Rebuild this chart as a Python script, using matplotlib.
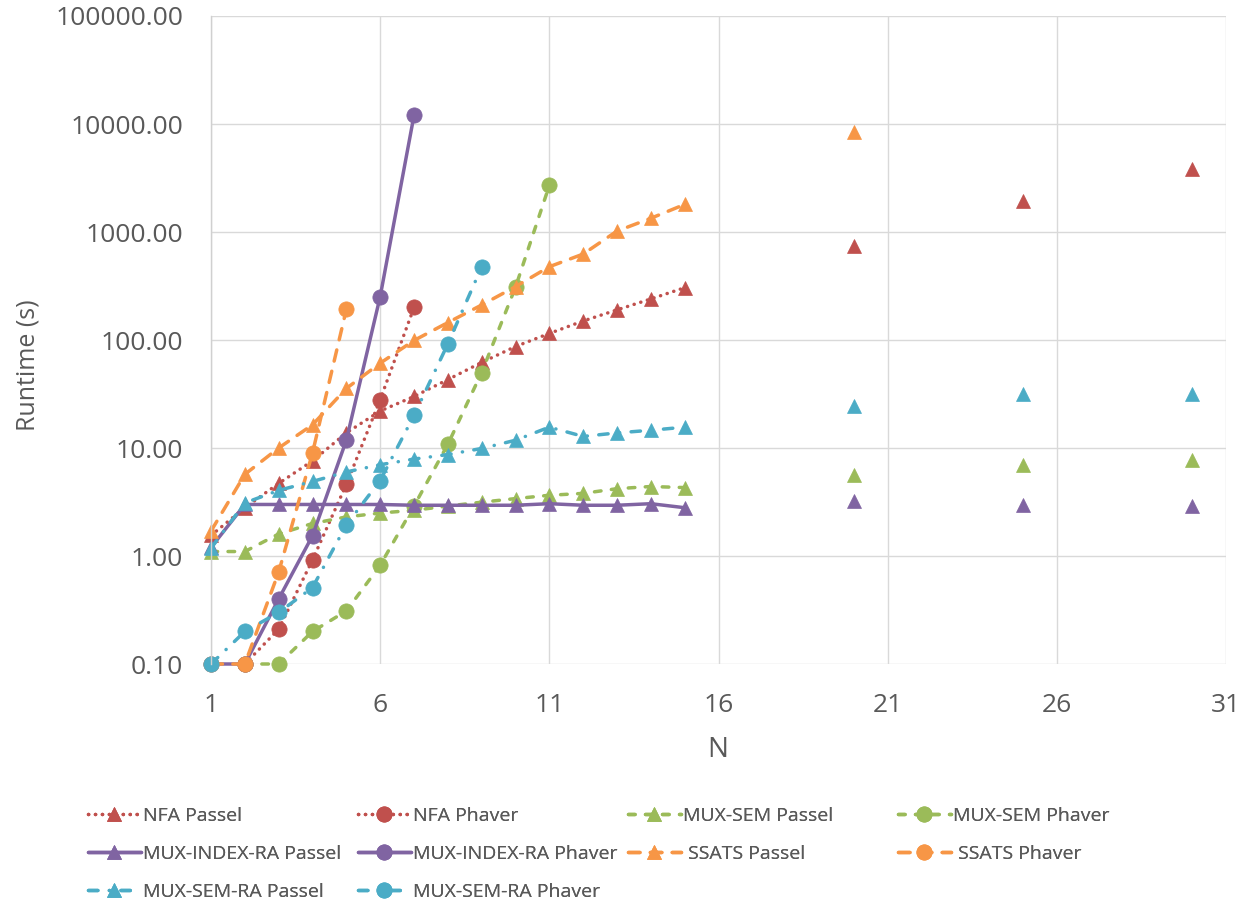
import numpy as np
import pandas as pd
import matplotlib
matplotlib.use("Agg")
import matplotlib.pyplot as plt
from matplotlib.ticker import FuncFormatter, NullLocator

plt.rcParams['font.family'] = ['Open Sans', 'DejaVu Sans']

# Passel runs: 1..15 plus three long runs (no line between them)
n_passel = list(range(1, 16)) + [20, 25, 30]
nfa_passel = [1.55, 2.8, 4.7, 7.6, 13.8, 22, 30, 43, 62, 87, 115, 150, 190, 240, 305,
              740, 1920, 3800]
mux_sem_passel = [1.1, 1.1, 1.6, 2.0, 2.3, 2.5, 2.65, 2.9, 3.15, 3.4, 3.65, 3.8, 4.2, 4.4, 4.3,
                  5.66, 6.96, 7.8]
mux_index_ra_passel = [1.2, 3.0, 3.0, 3.0, 3.0, 3.0, 2.95, 2.95, 2.95, 2.95, 3.05, 2.95, 2.95, 3.05, 2.8,
                       3.25, 2.96, 2.88]
mux_sem_ra_passel = [1.18, 3.1, 4.05, 4.9, 6.0, 7.0, 7.9, 8.7, 9.9, 11.8, 15.6, 12.8, 13.8, 14.6, 15.6,
                     24.7, 31.8, 31.8]
n_ssats_passel = list(range(1, 16)) + [20]
ssats_passel = [1.7, 5.7, 10, 16.4, 35.6, 61, 99, 145, 211, 312, 477, 625, 1020, 1340, 1800,
                8500]

# Phaver runs
n_nfa_phaver = [2, 3, 4, 5, 6, 7]
nfa_phaver = [0.1, 0.21, 0.92, 4.6, 28, 200]
n_mux_sem_phaver = [2, 3, 4, 5, 6, 7, 8, 9, 10, 11]
mux_sem_phaver = [0.1, 0.1, 0.2, 0.31, 0.82, 2.9, 10.8, 50, 308, 2700]
n_mux_index_ra_phaver = [1, 2, 3, 4, 5, 6, 7]
mux_index_ra_phaver = [0.1, 0.1, 0.4, 1.54, 11.8, 252, 12000]
n_ssats_phaver = [1, 2, 3, 4, 5]
ssats_phaver = [0.1, 0.1, 0.71, 9.0, 192]
n_mux_sem_ra_phaver = [1, 2, 3, 4, 5, 6, 7, 8, 9]
mux_sem_ra_phaver = [0.1, 0.2, 0.3, 0.51, 1.94, 5.0, 20, 92, 475]

RED, GREEN, PURPLE, ORANGE, BLUE = '#C0504D', '#9BBB59', '#8064A2', '#F79646', '#4BACC6'
TEXT = '#595959'

# dash patterns (round caps add one line width to every dash)
DOT = (0, (0.05, 1.95))
DASH = (0, (1.9, 3.0))
LONGDASH = (0, (3.3, 3.0))
DASHDOT = (0, (2.7, 3.3, 0.05, 3.3))

# (label, x, y, colour, marker, linestyle) in Excel series order
series = [
    ('NFA Passel', n_passel, nfa_passel, RED, '^', DOT),
    ('NFA Phaver', n_nfa_phaver, nfa_phaver, RED, 'o', DOT),
    ('MUX-SEM Passel', n_passel, mux_sem_passel, GREEN, '^', DASH),
    ('MUX-SEM Phaver', n_mux_sem_phaver, mux_sem_phaver, GREEN, 'o', DASH),
    ('MUX-INDEX-RA Passel', n_passel, mux_index_ra_passel, PURPLE, '^', '-'),
    ('MUX-INDEX-RA Phaver', n_mux_index_ra_phaver, mux_index_ra_phaver, PURPLE, 'o', '-'),
    (' SSATS Passel', n_ssats_passel, ssats_passel, ORANGE, '^', LONGDASH),
    (' SSATS Phaver', n_ssats_phaver, ssats_phaver, ORANGE, 'o', LONGDASH),
    ('MUX-SEM-RA Passel', n_passel, mux_sem_ra_passel, BLUE, '^', DASHDOT),
    ('MUX-SEM-RA Phaver', n_mux_sem_ra_phaver, mux_sem_ra_phaver, BLUE, 'o', DASHDOT),
]

W, H = 1250, 905
fig = plt.figure(figsize=(W / 100, H / 100), dpi=100)
ax = fig.add_axes([211 / W, 1 - 664 / H, (1226 - 211) / W, (664 - 16) / H])

handles = {}
for label, xs, ys, col, mk, ls in series:
    # reindex on every N so that gaps break the line
    s = pd.Series(ys, index=xs).reindex(range(1, 31))
    ms = 10 if mk == '^' else 11
    ln, = ax.plot(s.index, s.values, color=col, lw=2.5, ls=ls, marker=mk, ms=ms,
                  mec=col, mfc=col, mew=0.5, dash_capstyle='round', solid_capstyle='round',
                  clip_on=False, label=label)
    handles[label] = ln

ax.set_yscale('log')
ax.set_ylim(0.1, 100000)
ax.set_xlim(1, 31)
ax.set_xticks(range(1, 32, 5))
ax.yaxis.set_minor_locator(NullLocator())
ax.yaxis.set_major_formatter(FuncFormatter(lambda v, p: f"{v:.2f}"))
ax.grid(True, which='major', color='#D9D9D9', lw=1.0)
ax.set_axisbelow(True)
for sp in ['top', 'right', 'bottom']:
    ax.spines[sp].set_visible(False)
ax.spines['left'].set_color('#D0D0D0')
ax.spines['left'].set_linewidth(1.0)
ax.tick_params(axis='both', length=0, labelsize=19, labelcolor=TEXT)
ax.tick_params(axis='y', pad=20)
ax.tick_params(axis='x', pad=21)

fig.text(28 / W, 1 - 365 / H, 'Runtime (s)', rotation=90, ha='center', va='center',
         fontsize=18, color=TEXT)
fig.text(718 / W, 1 - 750 / H, 'N', ha='center', va='center', fontsize=20, color=TEXT)

# legend laid out row by row, as four single-column legends
columns = [
    ['NFA Passel', 'MUX-INDEX-RA Passel', 'MUX-SEM-RA Passel'],
    ['NFA Phaver', 'MUX-INDEX-RA Phaver', 'MUX-SEM-RA Phaver'],
    ['MUX-SEM Passel', ' SSATS Passel'],
    ['MUX-SEM Phaver', ' SSATS Phaver'],
]
col_x = [88, 358, 628, 898]
for cx, labels in zip(col_x, columns):
    leg = fig.legend([handles[l] for l in labels], labels, loc='upper left',
                     bbox_to_anchor=(cx / W, 1 - 807 / H), bbox_transform=fig.transFigure,
                     frameon=False, fontsize=14, labelcolor=TEXT, handlelength=2.7,
                     handletextpad=0.15, labelspacing=1.03, borderpad=0, borderaxespad=0)
    fig.add_artist(leg)

fig.savefig('out.png', dpi=100)
